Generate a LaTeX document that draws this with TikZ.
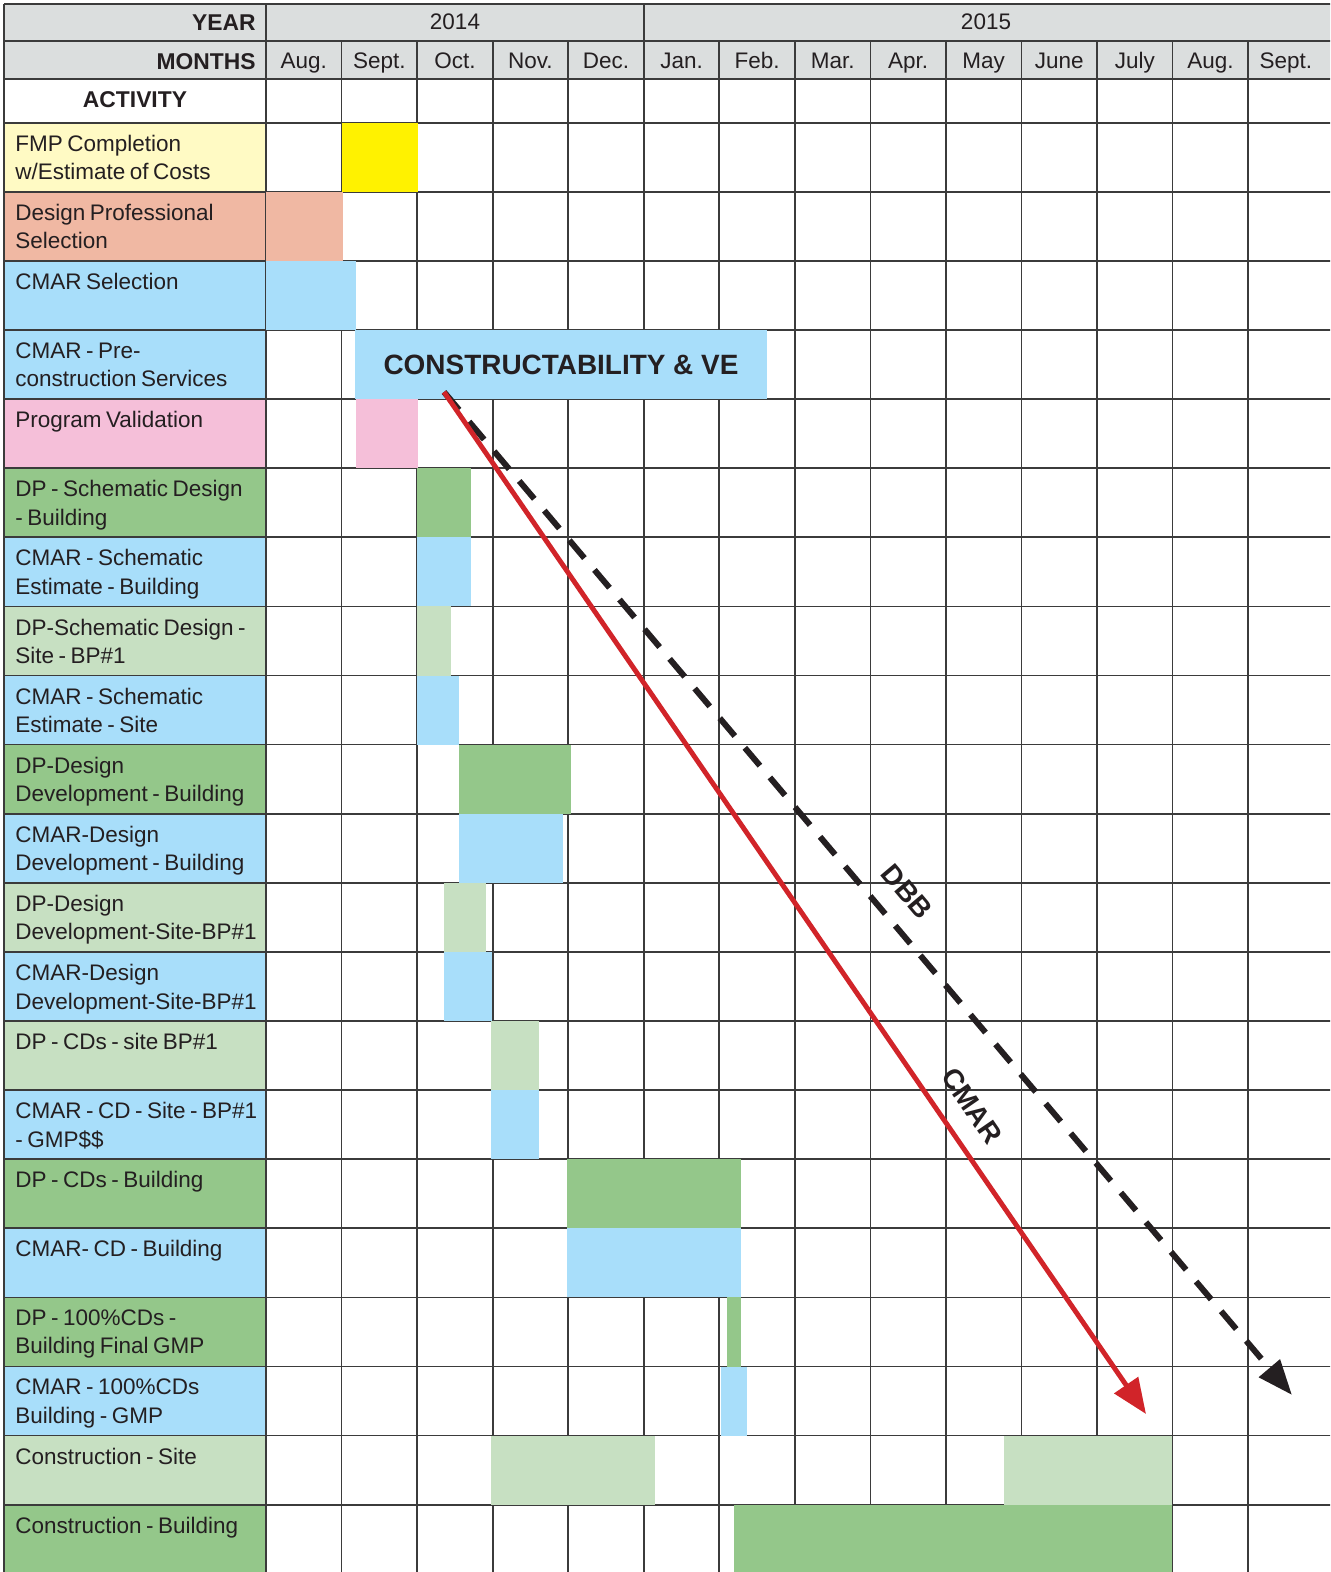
\documentclass[tikz,border=0pt]{standalone}
\usepackage{fontspec}
\setmainfont{Liberation Sans}
\newfontfamily\lblfont[WordSpace=0.72]{Liberation Sans}
\usetikzlibrary{arrows.meta}
\definecolor{hdrgray}{rgb}{0.86,0.87,0.87}
\definecolor{paleyellow}{rgb}{1,0.98,0.77}
\definecolor{fmpyellow}{rgb}{1,0.95,0}
\definecolor{salmon}{rgb}{0.94,0.72,0.64}
\definecolor{skyblue}{rgb}{0.66,0.87,0.98}
\definecolor{pinkish}{rgb}{0.96,0.75,0.85}
\definecolor{dpgreen}{rgb}{0.58,0.78,0.54}
\definecolor{sitegreen}{rgb}{0.78,0.88,0.76}
\definecolor{arrowred}{rgb}{0.82,0.14,0.16}
\definecolor{inkblack}{rgb}{0.14,0.12,0.13}
\definecolor{gridc}{rgb}{0.23,0.23,0.23}

\begin{document}
\begin{tikzpicture}[x=0.02cm,y=-0.02cm,
  grid/.style={line width=1pt,color=gridc},
  lbl/.style={anchor=north west,inner sep=0pt,align=left,text=inkblack,font=\lblfont\fontsize{12.8}{16.2}\selectfont},
  hdr/.style={inner sep=0pt,text=inkblack,font=\fontsize{13}{15}\selectfont\bfseries},
  month/.style={anchor=base,inner sep=0pt,text=inkblack,font=\fontsize{12.8}{15}\selectfont},
  tag/.style={inner sep=0pt,text=inkblack,font=\fontsize{16}{18}\selectfont\bfseries}]
\useasboundingbox (0,0) rectangle (1330,1572);
\clip (0,0) rectangle (1330,1572);

% header and activity cells
\fill[hdrgray] (4,4) rectangle (1340,79);
\fill[paleyellow] (4,122.7) rectangle (266,191.8);
\fill[salmon] (4,191.8) rectangle (266,260.9);
\fill[skyblue] (4,260.9) rectangle (266,399.1);
\fill[pinkish] (4,399.1) rectangle (266,468.2);
\fill[dpgreen] (4,468.2) rectangle (266,537.3);
\fill[skyblue] (4,537.3) rectangle (266,606.4);
\fill[sitegreen] (4,606.4) rectangle (266,675.5);
\fill[skyblue] (4,675.5) rectangle (266,744.6);
\fill[dpgreen] (4,744.6) rectangle (266,813.7);
\fill[skyblue] (4,813.7) rectangle (266,882.8);
\fill[sitegreen] (4,882.8) rectangle (266,951.9);
\fill[skyblue] (4,951.9) rectangle (266,1021);
\fill[sitegreen] (4,1021) rectangle (266,1090.1);
\fill[skyblue] (4,1090.1) rectangle (266,1159.2);
\fill[dpgreen] (4,1159.2) rectangle (266,1228.3);
\fill[skyblue] (4,1228.3) rectangle (266,1297.4);
\fill[dpgreen] (4,1297.4) rectangle (266,1366.5);
\fill[skyblue] (4,1366.5) rectangle (266,1435.6);
\fill[sitegreen] (4,1435.6) rectangle (266,1504.7);
\fill[dpgreen] (4,1504.7) rectangle (266,1580);

% grid
\draw[grid] (4,4) -- (1340,4);
\draw[grid] (4,41) -- (1340,41);
\draw[grid] (4,79) -- (1340,79);
\foreach \k in {0,...,21}
  \draw[grid] (4,{122.7+69.1*\k}) -- (1340,{122.7+69.1*\k});
\draw[grid] (4,4) -- (4,1580);
\draw[grid] (266,4) -- (266,1580);
\draw[grid] (643.75,4) -- (643.75,1580);
\foreach \i in {1,...,13}
  \draw[grid] ({266+75.55*\i},41) -- ({266+75.55*\i},1580);

% bars
\fill[fmpyellow] (341.6,122.7) rectangle (417.5,191.8);
\fill[salmon] (266,191.8) rectangle (342.5,260.9);
\fill[skyblue] (266,260.9) rectangle (356,330);
\fill[skyblue] (355,330) rectangle (767,399.1);
\fill[pinkish] (356,399.1) rectangle (417.5,468.2);
\fill[dpgreen] (417,468.2) rectangle (471,537.3);
\fill[skyblue] (417,537.3) rectangle (471,606.4);
\fill[sitegreen] (417,606.4) rectangle (451,675.5);
\fill[skyblue] (417,675.5) rectangle (459,744.6);
\fill[dpgreen] (459,744.6) rectangle (571,813.7);
\fill[skyblue] (459,813.7) rectangle (563,882.8);
\fill[sitegreen] (444,882.8) rectangle (486,951.9);
\fill[skyblue] (444,951.9) rectangle (492,1021);
\fill[sitegreen] (491,1021) rectangle (539,1090.1);
\fill[skyblue] (491,1090.1) rectangle (539,1159.2);
\fill[dpgreen] (567,1159.2) rectangle (741,1228.3);
\fill[skyblue] (567,1228.3) rectangle (741,1297.4);
\fill[dpgreen] (727,1297.4) rectangle (741,1366.5);
\fill[skyblue] (721,1366.5) rectangle (747,1435.6);
\fill[sitegreen] (491,1435.6) rectangle (655,1504.7);
\fill[sitegreen] (1004,1435.6) rectangle (1172,1504.7);
\fill[dpgreen] (734,1504.7) rectangle (1172,1580);

% headings
\node[hdr,anchor=base east] (year) at (256,30.3) {YEAR};
\node[hdr,anchor=base east] (months) at (256,69) {MONTHS};
\node[hdr,anchor=base] (activity) at (135,107.5) {ACTIVITY};
\node[month] (y2014) at (455,29.5) {2014};
\node[month] (y2015) at (986,29.5) {2015};
\foreach \m [count=\i from 0] in {Aug.,Sept.,Oct.,Nov.,Dec.,Jan.,Feb.,Mar.,Apr.,May,June,July,Aug.,Sept.}
  \node[month] (m\i) at ({266+75.55*(\i+0.5)},68.5) {\m};

% activities
\node[lbl] (fmp) at (15,134.7) {FMP Completion\\w/Estimate of Costs};
\node[lbl] (dpsel) at (15,203.8) {Design Professional\\Selection};
\node[lbl] (cmarsel) at (15,272.9) {CMAR Selection};
\node[lbl] (cmarpre) at (15,342) {CMAR - Pre-\\construction Services};
\node[lbl] (progval) at (15,411.1) {Program Validation};
\node[lbl] (dpsdb) at (15,480.2) {DP - Schematic Design\\- Building};
\node[lbl] (cmarseb) at (15,549.3) {CMAR - Schematic\\Estimate - Building};
\node[lbl] (dpsds) at (15,618.4) {DP-Schematic Design -\\Site - BP\#1};
\node[lbl] (cmarses) at (15,687.5) {CMAR - Schematic\\Estimate - Site};
\node[lbl] (dpddb) at (15,756.6) {DP-Design\\Development - Building};
\node[lbl] (cmarddb) at (15,825.7) {CMAR-Design\\Development - Building};
\node[lbl] (dpdds) at (15,894.8) {DP-Design\\Development-Site-BP\#1};
\node[lbl] (cmardds) at (15,963.9) {CMAR-Design\\Development-Site-BP\#1};
\node[lbl] (dpcds) at (15,1033) {DP - CDs - site BP\#1};
\node[lbl] (cmarcds) at (15,1102.1) {CMAR - CD - Site - BP\#1\\- GMP\$\$};
\node[lbl] (dpcdb) at (15,1171.2) {DP - CDs - Building};
\node[lbl] (cmarcdb) at (15,1240.3) {CMAR- CD - Building};
\node[lbl] (dpfull) at (15,1309.4) {DP - 100\%CDs -\\Building Final GMP};
\node[lbl] (cmarfull) at (15,1378.5) {CMAR - 100\%CDs\\Building - GMP};
\node[lbl] (consite) at (15,1447.6) {Construction - Site};
\node[lbl] (conbldg) at (15,1516.7) {Construction - Building};

\node[inner sep=0pt,text=inkblack,font=\fontsize{15.9}{18}\selectfont\bfseries] (ve) at (561,364.5) {CONSTRUCTABILITY \& VE};

% delivery arrows
\coordinate (start) at (444,392);
\coordinate (dbbEnd) at (1292,1395);
\coordinate (cmarEnd) at (1146,1414);
\draw[line width=3.4pt,color=inkblack,dash pattern=on 13.3pt off 8.8pt,-{Triangle[length=20pt,width=15pt]}] (start) -- (dbbEnd);
\draw[line width=2.8pt,color=arrowred,-{Triangle[length=20pt,width=16pt]}] (start) -- (cmarEnd);
\node[tag,rotate=-49.8] (dbb) at (907,892) {DBB};
\node[tag,rotate=-55.5] (cmar) at (972,1106) {CMAR};

\end{tikzpicture}
\end{document}
